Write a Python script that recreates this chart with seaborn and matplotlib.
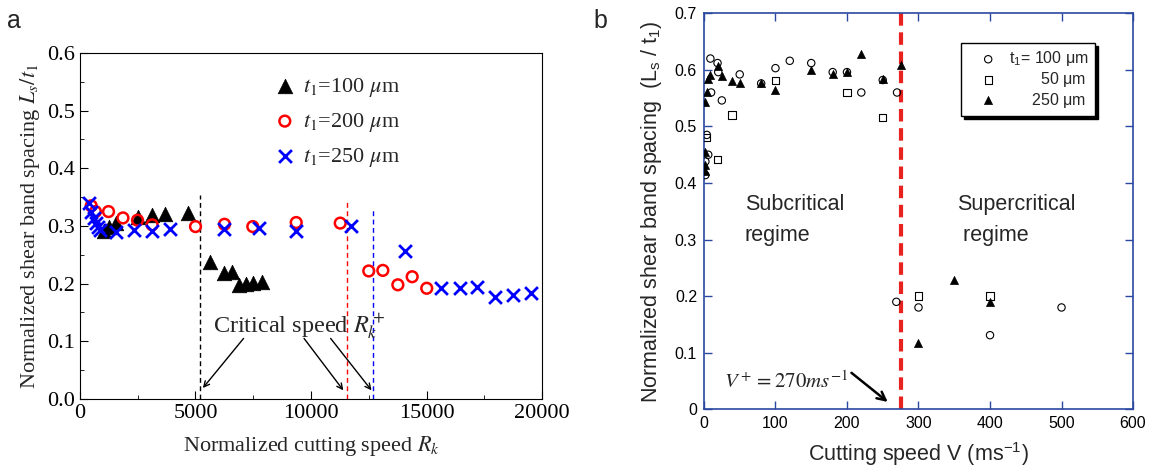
import matplotlib
matplotlib.use('Agg')
import matplotlib.pyplot as plt
import seaborn as sns
from matplotlib.ticker import MultipleLocator, FixedLocator

# ---- panel a data: normalized cutting speed R_k vs L_s/t1
a_t100_R = [1060, 1250, 1560, 2500, 3120, 3700, 4680, 5610, 6230, 6570, 6870, 7200, 7510, 7860]
a_t100_L = [0.292, 0.298, 0.305, 0.316, 0.319, 0.321, 0.323, 0.238, 0.219, 0.221, 0.197, 0.199, 0.201, 0.202]

a_t200_R = [485, 670, 1235, 1860, 2490, 3125, 5000, 6255, 7480, 9360, 11265, 12500, 13110, 13760, 14380, 15010]
a_t200_L = [0.335, 0.325, 0.325, 0.314, 0.310, 0.302, 0.299, 0.303, 0.299, 0.306, 0.305, 0.222, 0.223, 0.198, 0.212, 0.192]

a_t250_R = [380, 475, 585, 695, 800, 865, 1570, 2330, 3120, 3900, 6255, 7770, 9360, 11740,
            14090, 15640, 16430, 17195, 17975, 18735, 19530]
a_t250_L = [0.339, 0.325, 0.313, 0.305, 0.298, 0.293, 0.290, 0.293, 0.292, 0.294, 0.294, 0.297, 0.292, 0.300,
            0.257, 0.193, 0.192, 0.194, 0.177, 0.180, 0.183]

a_crit_R = [5200, 11570, 12700]
a_crit_top = [0.354, 0.345, 0.329]
a_crit_colors = ['black', 'red', 'blue']

# ---- panel b data: cutting speed V (m/s) vs L_s/t1
b_t100_V = [2, 2, 4, 6, 10, 9, 19, 20, 25, 50, 80, 100, 120, 150, 180, 200, 220, 250, 270, 269, 300, 400, 500]
b_t100_L = [0.414, 0.438, 0.485, 0.450, 0.560, 0.620, 0.612, 0.596, 0.546, 0.592, 0.576, 0.603, 0.616,
            0.612, 0.596, 0.596, 0.560, 0.582, 0.560, 0.190, 0.180, 0.131, 0.180]

b_t50_V = [4, 19, 39, 100, 200, 250, 300, 400]
b_t50_L = [0.480, 0.441, 0.520, 0.581, 0.560, 0.516, 0.200, 0.200]

b_t250_V = [1, 1, 1, 1, 4, 6, 8, 19, 25, 39, 50, 80, 100, 150, 180, 200, 220, 250, 275, 300, 350, 400]
b_t250_L = [0.422, 0.432, 0.455, 0.544, 0.561, 0.583, 0.591, 0.606, 0.589, 0.581, 0.577, 0.576, 0.564,
            0.599, 0.593, 0.596, 0.628, 0.583, 0.608, 0.117, 0.228, 0.190]

b_crit_V = 275

sns.set_style('ticks')
plt.rcParams['font.family'] = ['Liberation Sans', 'DejaVu Sans']
plt.rcParams['mathtext.fontset'] = 'stix'

fig = plt.figure(figsize=(11.51, 4.71), dpi=100)
ax1 = fig.add_axes([0.0695, 0.1529, 0.4014, 0.7346])
ax2 = fig.add_axes([0.6116, 0.131, 0.3728, 0.8408])

serif = 'Liberation Serif'

# ---------------- panel a
sns.scatterplot(x=a_t100_R, y=a_t100_L, marker='^', s=110, color='black', edgecolor='black',
                linewidth=0.5, label=r'$t_1$=100 $\mu$m', ax=ax1, zorder=3)
sns.scatterplot(x=a_t200_R, y=a_t200_L, marker='o', s=60, facecolor='none', edgecolor='red',
                linewidth=1.8, label=r'$t_1$=200 $\mu$m', ax=ax1, zorder=3)
sns.scatterplot(x=a_t250_R, y=a_t250_L, marker='x', s=85, color='blue',
                linewidth=2, label=r'$t_1$=250 $\mu$m', ax=ax1, zorder=3)

for r, top, c in zip(a_crit_R, a_crit_top, a_crit_colors):
    ax1.plot([r, r], [0, top], ls=(0, (3.5, 2.5)), color=c, lw=1)

ax1.text(9500, 0.127, r'Critical speed $R_k^+$', ha='center', va='center',
         fontsize=17.5, family=serif)
for start, end in [((7080, 0.105), (5320, 0.019)),
                   ((9700, 0.105), (11400, 0.015)),
                   ((10850, 0.105), (12620, 0.015))]:
    ax1.annotate('', xy=end, xytext=start,
                 arrowprops=dict(arrowstyle='->', color='black', lw=1, shrinkA=0, shrinkB=0))

ax1.set_xlim(0, 20000)
ax1.set_ylim(0, 0.6)
ax1.xaxis.set_major_locator(MultipleLocator(5000))
ax1.xaxis.set_minor_locator(MultipleLocator(2500))
ax1.yaxis.set_major_locator(MultipleLocator(0.1))
ax1.yaxis.set_minor_locator(MultipleLocator(0.05))
ax1.yaxis.set_major_formatter('{x:.1f}')
ax1.tick_params(which='both', direction='in', labelsize=16, colors='black')
ax1.tick_params(which='major', length=6)
ax1.tick_params(which='minor', length=3)
for lab in ax1.get_xticklabels() + ax1.get_yticklabels():
    lab.set_family(serif)
for sp in ax1.spines.values():
    sp.set_visible(True)
    sp.set_color('black')
ax1.set_xlabel(r'Normalized cutting speed $R_k$', fontsize=16, family=serif, labelpad=8)
ax1.set_ylabel(r'Normalized shear band spacing $L_s/t_1$', fontsize=16, family=serif, labelpad=4)
ax1.legend(loc='upper left', bbox_to_anchor=(0.40, 0.96), frameon=False,
           prop={'family': serif, 'size': 16}, handletextpad=0.3, labelspacing=0.55,
           handlelength=1.0, borderaxespad=0)

# ---------------- panel b
axc = '#2a48a0'
sns.scatterplot(x=b_t100_V, y=b_t100_L, marker='o', s=28, facecolor='none', edgecolor='black',
                linewidth=0.8, label=r't$\mathregular{_1}$= 100 $\mathregular{\mu}$m', ax=ax2, zorder=3)
sns.scatterplot(x=b_t50_V, y=b_t50_L, marker='s', s=28, facecolor='none', edgecolor='black',
                linewidth=0.8, label='       50 $\\mathregular{\\mu}$m', ax=ax2, zorder=3)
sns.scatterplot(x=b_t250_V, y=b_t250_L, marker='^', s=34, color='black', edgecolor='black',
                linewidth=0.5, label='     250 $\\mathregular{\\mu}$m', ax=ax2, zorder=3)

ax2.axvline(b_crit_V, color='#e8231f', lw=3, ls=(0, (3, 1.6)), zorder=2)

ax2.text(57, 0.335, 'Subcritical\nregime', fontsize=15.5, ha='left', va='center', linespacing=1.6)
ax2.text(354, 0.335, 'Supercritical\n regime', fontsize=15.5, ha='left', va='center', linespacing=1.6)
ax2.annotate(r'$V^+=270ms^{-1}$', xy=(257, 0.013), xytext=(115, 0.05),
             fontsize=15, ha='center', va='center',
             arrowprops=dict(arrowstyle='->', color='black', lw=1.8,
                             shrinkA=0, shrinkB=0, relpos=(1.0, 1.0)))

ax2.set_xlim(0, 600)
ax2.set_ylim(0, 0.7)
ax2.xaxis.set_major_locator(MultipleLocator(100))
ax2.yaxis.set_major_locator(FixedLocator([0, 0.1, 0.2, 0.3, 0.4, 0.5, 0.6, 0.7]))
ax2.set_yticklabels(['0', '0.1', '0.2', '0.3', '0.4', '0.5', '0.6', '0.7'])
ax2.tick_params(direction='in', length=6, width=1, color=axc, labelsize=11.5, labelcolor='black',
                top=True, right=True, pad=5)
for sp in ax2.spines.values():
    sp.set_visible(True)
    sp.set_color(axc)
    sp.set_linewidth(1.2)
ax2.set_xlabel(r'Cutting speed V (ms$^{\mathregular{-1}}$)', fontsize=15.5, labelpad=7)
ax2.set_ylabel(r'Normalized shear band spacing  (L$\mathregular{_s}$ / t$\mathregular{_1}$)',
               fontsize=15.5, labelpad=8)
leg = ax2.legend(loc='upper right', bbox_to_anchor=(0.93, 0.945), frameon=True, fancybox=False,
                 shadow={'color': 'black', 'alpha': 1}, edgecolor='black', framealpha=1,
                 fontsize=11.5, handletextpad=0.0, labelspacing=0.1, borderpad=0.4,
                 markerscale=1.0, handlelength=2.6)
leg.get_frame().set_linewidth(1)

fig.text(0.006, 0.955, 'a', fontsize=18, ha='left', va='center')
fig.text(0.516, 0.955, 'b', fontsize=18, ha='left', va='center')

fig.savefig('out.png', dpi=100)
